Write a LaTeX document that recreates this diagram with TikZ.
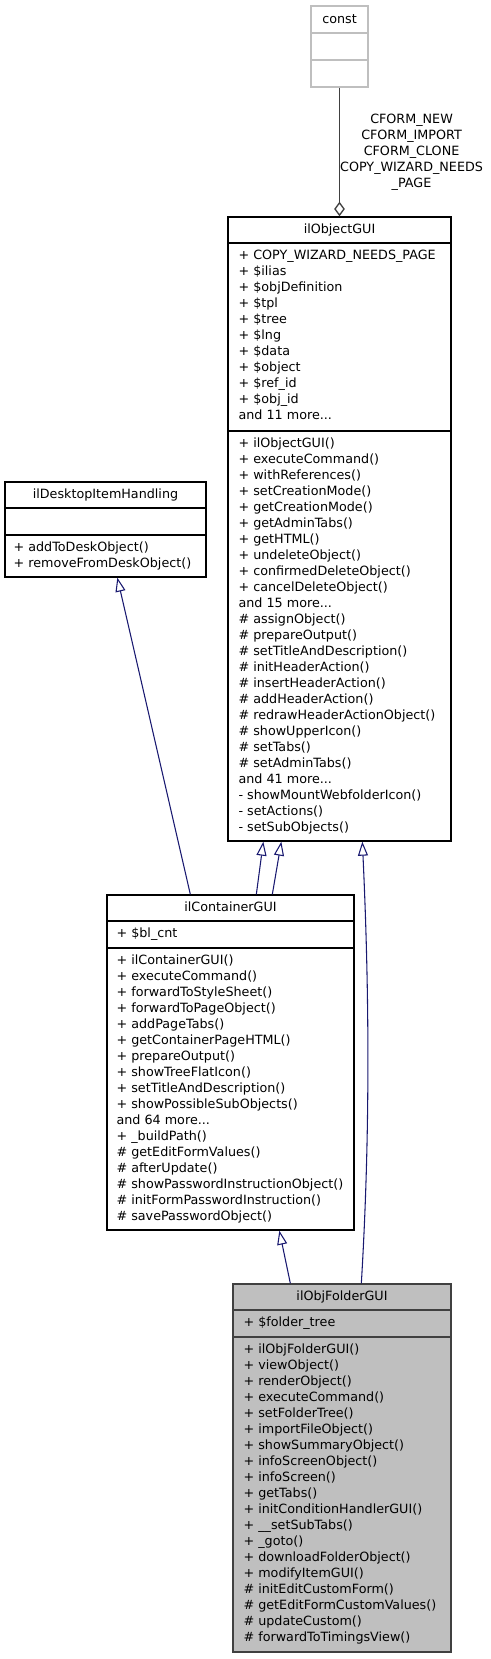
\documentclass[tikz,border=0pt]{standalone}
\usepackage{fontspec}
\setmainfont{DejaVu Sans}
\usepackage{tikz}
\usetikzlibrary{arrows.meta, calc, fit, positioning}
\definecolor{doxyedge}{HTML}{191970}
\definecolor{doxygrey}{HTML}{404040}
\definecolor{doxylight}{HTML}{BFBFBF}

\begin{document}
\begin{tikzpicture}[
		x=0.75pt, y=-0.75pt,
		texts/.style = {text=black, font=\fontsize{9.55}{12}\selectfont},
		classpart/.style = {draw=black, line width=1pt, inner sep=0pt, fill=white},
		constpart/.style = {classpart, draw=doxylight},
		currentpart/.style = {classpart, draw=doxygrey, fill=doxylight},
		titletext/.style = {texts, anchor=base, inner sep=0pt},
		membertext/.style = {texts, anchor=north west, inner sep=0pt, align=left},
		edgelabel/.style = {texts, align=center, inner sep=0pt},
		inherit/.style = {draw=doxyedge, line width=0.8pt, -{Triangle[open, length=10.5pt, width=7.5pt]}},
		usage/.style = {draw=doxygrey, line width=1pt, -{Diamond[open, length=11pt, width=8pt]}}
		]
		\useasboundingbox (0,0) rectangle (491,1659);
		
		\node [constpart, fit={(311,6) (368,33)}] (constname) {};
		\node [constpart, fit={(311,33) (368,60)}] (constattr) {};
		\node [constpart, fit={(311,60) (368,87)}] (constop) {};
		\node [titletext] (consttitle) at ($(constname.north)+(0,18)$) {const};
		
		\node [classpart, fit={(228,217) (451,243)}] (objname) {};
		\node [classpart, fit={(228,243) (451,431)}] (objattr) {};
		\node [classpart, fit={(228,431) (451,841)}] (objop) {};
		\node [titletext] (objtitle) at ($(objname.north)+(0,17.5)$) {ilObjectGUI};
		\node [membertext] (objattrtext) at ($(objattr.north west)+(11,5.8)$) {\strut + COPY\_WIZARD\_NEEDS\_PAGE\\ + \$ilias\\ + \$objDefinition\\ + \$tpl\\ + \$tree\\ + \$lng\\ + \$data\\ + \$object\\ + \$ref\_id\\ + \$obj\_id\\ and 11 more...};
		\node [membertext] (objoptext) at ($(objop.north west)+(11,5.8)$) {\strut + ilObjectGUI()\\ + executeCommand()\\ + withReferences()\\ + setCreationMode()\\ + getCreationMode()\\ + getAdminTabs()\\ + getHTML()\\ + undeleteObject()\\ + confirmedDeleteObject()\\ + cancelDeleteObject()\\ and 15 more...\\ \# assignObject()\\ \# prepareOutput()\\ \# setTitleAndDescription()\\ \# initHeaderAction()\\ \# insertHeaderAction()\\ \# addHeaderAction()\\ \# redrawHeaderActionObject()\\ \# showUpperIcon()\\ \# setTabs()\\ \# setAdminTabs()\\ and 41 more...\\ - showMountWebfolderIcon()\\ - setActions()\\ - setSubObjects()};
		
		\node [classpart, fit={(5,482) (206,508)}] (deskname) {};
		\node [classpart, fit={(5,508) (206,535)}] (deskattr) {};
		\node [classpart, fit={(5,535) (206,577)}] (deskop) {};
		\node [titletext] (desktitle) at ($(deskname.north)+(0,17.5)$) {ilDesktopItemHandling};
		\node [membertext] (deskoptext) at ($(deskop.north west)+(9,5.8)$) {\strut + addToDeskObject()\\ + removeFromDeskObject()};
		
		\node [classpart, fit={(107,895) (354,921)}] (contname) {};
		\node [classpart, fit={(107,921) (354,948)}] (contattr) {};
		\node [classpart, fit={(107,948) (354,1230)}] (contop) {};
		\node [titletext] (conttitle) at ($(contname.north)+(0,17.5)$) {ilContainerGUI};
		\node [membertext] (contattrtext) at ($(contattr.north west)+(10,5.8)$) {\strut + \$bl\_cnt};
		\node [membertext] (contoptext) at ($(contop.north west)+(10,5.8)$) {\strut + ilContainerGUI()\\ + executeCommand()\\ + forwardToStyleSheet()\\ + forwardToPageObject()\\ + addPageTabs()\\ + getContainerPageHTML()\\ + prepareOutput()\\ + showTreeFlatIcon()\\ + setTitleAndDescription()\\ + showPossibleSubObjects()\\ and 64 more...\\ + \_buildPath()\\ \# getEditFormValues()\\ \# afterUpdate()\\ \# showPasswordInstructionObject()\\ \# initFormPasswordInstruction()\\ \# savePasswordObject()};
		
		\node [currentpart, fit={(233,1284) (451,1310)}] (foldname) {};
		\node [currentpart, fit={(233,1310) (451,1337)}] (foldattr) {};
		\node [currentpart, fit={(233,1337) (451,1652)}] (foldop) {};
		\node [titletext] (foldtitle) at ($(foldname.north)+(0,17.5)$) {ilObjFolderGUI};
		\node [membertext] (foldattrtext) at ($(foldattr.north west)+(11,5.8)$) {\strut + \$folder\_tree};
		\node [membertext] (foldoptext) at ($(foldop.north west)+(11,5.8)$) {\strut + ilObjFolderGUI()\\ + viewObject()\\ + renderObject()\\ + executeCommand()\\ + setFolderTree()\\ + importFileObject()\\ + showSummaryObject()\\ + infoScreenObject()\\ + infoScreen()\\ + getTabs()\\ + initConditionHandlerGUI()\\ + \_\_setSubTabs()\\ + \_goto()\\ + downloadFolderObject()\\ + modifyItemGUI()\\ \# initEditCustomForm()\\ \# getEditFormCustomValues()\\ \# updateCustom()\\ \# forwardToTimingsView()};
		
		\draw [usage] (constop.south) -- node [edgelabel, right] {CFORM\_NEW\\ CFORM\_IMPORT\\ CFORM\_CLONE\\ COPY\_WIZARD\_NEEDS\\ \_PAGE} (constop.south |- objname.north);
		
		\draw [inherit] ($(contname.north west)+(84,0)$) -- ($(deskop.south west)+(113,0)$);
		\draw [inherit] ($(contname.north west)+(150,0)$) -- ($(objop.south west)+(36,0)$);
		\draw [inherit] ($(contname.north west)+(166,0)$) -- ($(objop.south west)+(54,0)$);
		\draw [inherit] ($(foldname.north west)+(58,0)$) -- ($(contop.south west)+(173,0)$);
		\draw [inherit] ($(foldname.north west)+(129,0)$) .. controls +(9,-150) and +(7,150) .. ($(objop.south west)+(135,0)$);
		
		\end{tikzpicture}
\end{document}
